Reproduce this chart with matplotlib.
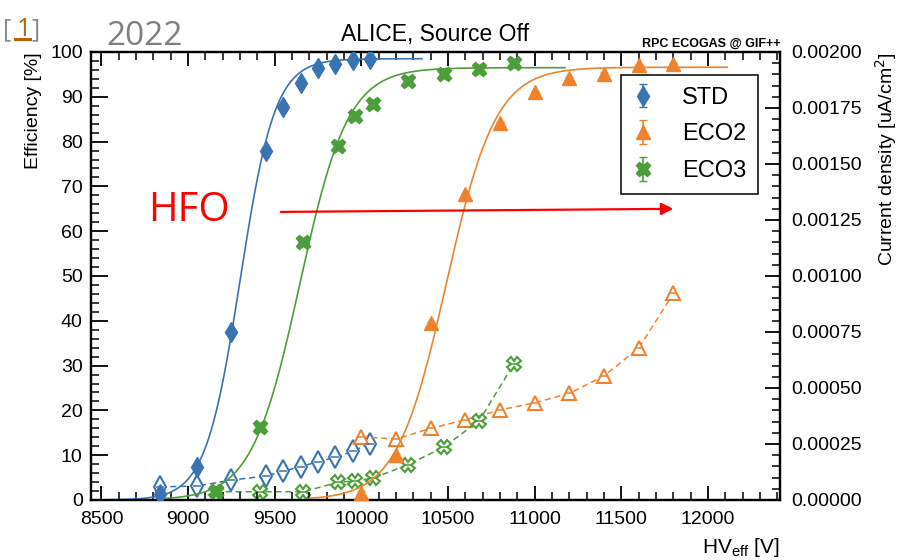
import numpy as np
import matplotlib
matplotlib.use("Agg")
import matplotlib.pyplot as plt
from matplotlib.lines import Line2D

plt.rcParams['font.family'] = ['Liberation Sans', 'DejaVu Sans']

# ---------------- data ----------------
std_hv = [8840, 9050, 9250, 9450, 9550, 9650, 9750, 9850, 9950, 10050]
std_eff = [1.3, 7.3, 37.4, 78.0, 87.8, 93.1, 96.4, 97.3, 98.2, 98.4]
std_cur = [5.9e-5, 6.2e-5, 8.9e-5, 1.07e-4, 1.29e-4, 1.49e-4, 1.71e-4, 1.90e-4, 2.18e-4, 2.52e-4]

eco2_hv = [10000, 10200, 10400, 10600, 10800, 11000, 11200, 11400, 11600, 11800]
eco2_eff = [1.6, 10.0, 39.4, 68.3, 84.1, 91.1, 94.1, 95.2, 97.1, 97.3]
eco2_cur = [2.82e-4, 2.72e-4, 3.20e-4, 3.58e-4, 4.02e-4, 4.34e-4, 4.76e-4, 5.54e-4, 6.78e-4, 9.22e-4]

eco3_hv = [9160, 9415, 9665, 9865, 9965, 10065, 10270, 10475, 10680, 10880]
eco3_eff = [1.9, 16.2, 57.5, 79.1, 85.8, 88.5, 93.6, 95.2, 96.1, 97.6]
eco3_cur = [3.7e-5, 3.7e-5, 3.7e-5, 7.9e-5, 8.5e-5, 9.7e-5, 1.58e-4, 2.36e-4, 3.54e-4, 6.08e-4]

# sigmoid fit parameters: [Emax, lambda, HV50] and fit ranges
std_fit = [98.5, 0.00997, 9301]
eco2_fit = [96.6, 0.0070, 10490]
eco3_fit = [96.5, 0.0072, 9645]
std_fit_range = [8540, 10350]
eco2_fit_range = [9700, 12110]
eco3_fit_range = [8860, 11175]

labels = ['STD', 'ECO2', 'ECO3']

c_std = '#3a73b2'
c_eco2 = '#f0822e'
c_eco3 = '#4c9e3a'


def sigmoid(x, p):
    return p[0] / (1.0 + np.exp(-p[1] * (x - p[2])))


W, H = 898, 560
fig = plt.figure(figsize=(W / 100, H / 100), dpi=100)
L, R, B, T = 91, 780, 500, 52
ax = fig.add_axes([L / W, 1 - B / H, (R - L) / W, (B - T) / H])
ax2 = ax.twinx()

ax.set_xlim(8440, 12415)
ax.set_ylim(0, 100)
ax2.set_ylim(0, 0.002)

# fits
for rng, p, c in [(std_fit_range, std_fit, c_std), (eco3_fit_range, eco3_fit, c_eco3),
                  (eco2_fit_range, eco2_fit, c_eco2)]:
    xx = np.linspace(rng[0], rng[1], 400)
    ax.plot(xx, sigmoid(xx, p), color=c, lw=1.2, zorder=2)

# current density (open markers, dashed)
open_specs = [(std_hv, std_cur, c_std, 'd', 11), (eco2_hv, eco2_cur, c_eco2, '^', 10),
              (eco3_hv, eco3_cur, c_eco3, 'X', 10)]
for hv, cur, c, m, ms in open_specs:
    ax2.plot(hv, cur, ls=(0, (4, 2.5)), lw=1.1, color=c, marker=m, ms=ms,
             mfc='white', mec=c, mew=1.5, zorder=3)
    ax2.plot(hv, cur, ls='none', marker='_', ms=ms * 0.5, mec=c, mew=1.1, zorder=4)

# efficiency (filled markers)
filled_specs = [(std_hv, std_eff, c_std, 'd', 10, labels[0]),
                (eco2_hv, eco2_eff, c_eco2, '^', 10, labels[1]),
                (eco3_hv, eco3_eff, c_eco3, 'X', 10.5, labels[2])]
handles = []
for hv, eff, c, m, ms, lab in filled_specs:
    h = ax.errorbar(hv, eff, yerr=0.3, fmt=m, ms=ms, color=c, mec=c, ecolor=c,
                    elinewidth=1.2, capsize=3, zorder=5, label=lab)
    handles.append(h)

ax.set_zorder(ax2.get_zorder() + 1)
ax.patch.set_visible(False)

# ticks
ax.set_xticks(np.arange(8500, 12001, 500))
ax.set_xticks(np.arange(8500, 12401, 100), minor=True)
ax.set_yticks(np.arange(0, 101, 10))
ax.set_yticks(np.arange(0, 101, 2), minor=True)
ax.tick_params(axis='x', which='both', direction='in', top=True, bottom=True, labelsize=14, pad=8)
ax.tick_params(axis='x', which='major', length=10, width=1.3)
ax.tick_params(axis='x', which='minor', length=5.5, width=1.1)
ax.tick_params(axis='y', which='both', direction='in', left=True, right=False, labelsize=14, pad=6)
ax.tick_params(axis='y', which='major', length=12, width=1.3)
ax.tick_params(axis='y', which='minor', length=6, width=1.1)

ax2.set_yticks(np.arange(0, 0.00201, 0.00025))
ax2.set_yticks(np.arange(0, 0.00201, 0.00005), minor=True)
ax2.set_yticklabels(['%.5f' % v for v in np.arange(0, 0.00201, 0.00025)])
ax2.tick_params(axis='y', which='both', direction='in', right=True, left=False, labelsize=14, pad=8)
ax2.tick_params(axis='y', which='major', length=11, width=1.3)
ax2.tick_params(axis='y', which='minor', length=5.5, width=1.1)

for a in (ax, ax2):
    for s in a.spines.values():
        s.set_linewidth(1.6)

# labels
ax.set_ylabel('Efficiency [%]', fontsize=14, loc='top', labelpad=6)
ax2.set_ylabel('Current density [uA/cm$^{2}$]', fontsize=14, loc='top', labelpad=8)
ax.set_xlabel('HV$_{\\mathregular{eff}}$ [V]', fontsize=15, loc='right', labelpad=6)
ax.set_title('ALICE, Source Off', fontsize=16.5, pad=8)
fig.text(R / W, 1 - 47 / H, 'RPC ECOGAS @ GIF++', fontsize=9, fontweight='bold',
         ha='right', va='baseline')

# legend
leg = ax.legend(handles=handles, labels=labels, loc='upper left',
                bbox_to_anchor=((621 - L) / (R - L), (B - 75) / (B - T)),
                borderaxespad=0, fontsize=17, frameon=True, fancybox=False,
                edgecolor='black', framealpha=1, handlelength=0.9, handletextpad=1.2,
                borderpad=0.5, labelspacing=0.62)
leg.get_frame().set_linewidth(1.1)

# HFO annotation
ax.annotate('', xy=(11816, 65.0), xytext=(9519, 64.3),
            arrowprops=dict(arrowstyle='-|>', color='red', lw=1.6, mutation_scale=18))
ax.text(9240, 64.5, 'HFO', color='red', fontsize=29, fontfamily='Open Sans',
        ha='right', va='center')

# header decorations
fig.text(106 / W, 1 - 45 / H, '2022', color='#7f7f7f', fontsize=24,
         fontfamily='Open Sans', ha='left', va='baseline')
fig.text(3 / W, 1 - 36 / H, '[', color='#8a8a8a', fontsize=18, fontfamily='Open Sans',
         ha='left', va='baseline')
fig.text(17 / W, 1 - 36 / H, '1', color='#b8600c', fontsize=18, fontfamily='Open Sans',
         ha='left', va='baseline')
fig.text(31 / W, 1 - 36 / H, ']', color='#8a8a8a', fontsize=18, fontfamily='Open Sans',
         ha='left', va='baseline')
fig.add_artist(Line2D([15 / W, 30 / W], [1 - 39 / H, 1 - 39 / H], color='#b8600c', lw=2.2))

fig.savefig('out.png', dpi=100)
